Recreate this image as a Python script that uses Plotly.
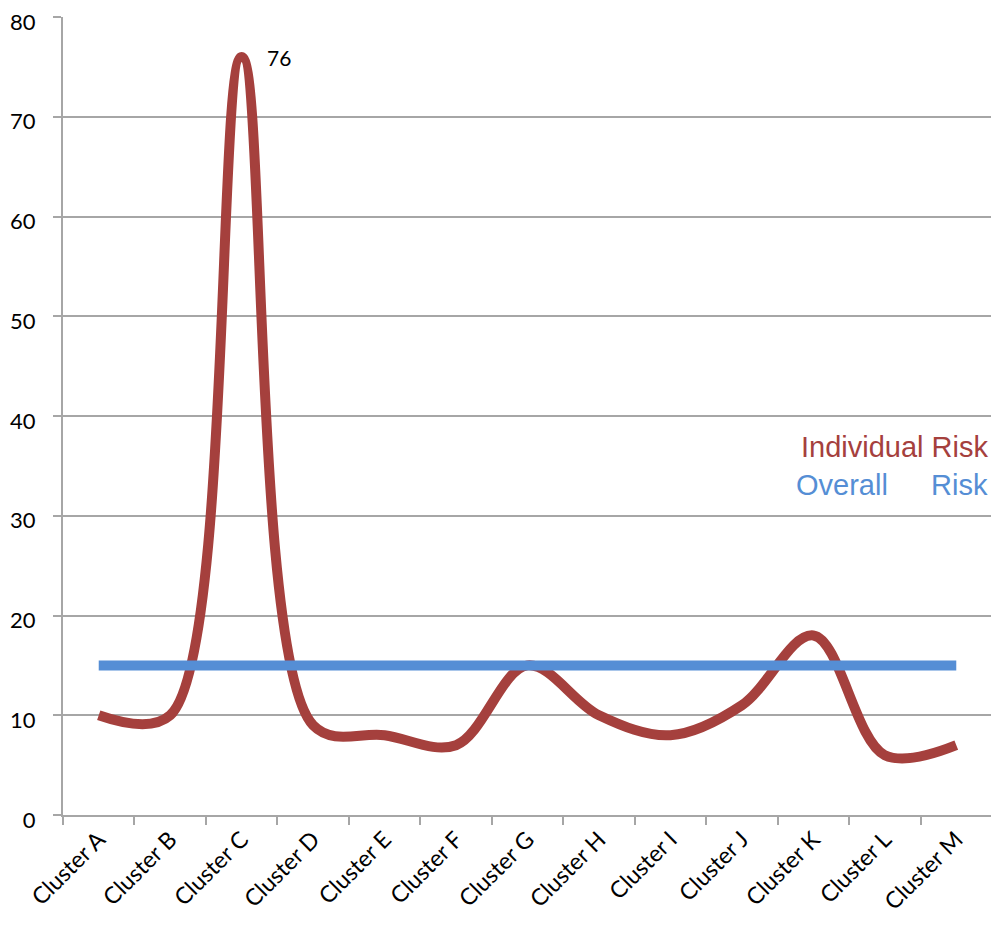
import plotly.graph_objects as go

# categories and series
clusters = ["Cluster A", "Cluster B", "Cluster C", "Cluster D", "Cluster E", "Cluster F",
            "Cluster G", "Cluster H", "Cluster I", "Cluster J", "Cluster K", "Cluster L", "Cluster M"]
individual_risk = [10, 10, 76, 9, 8, 7, 15, 10, 8, 11, 18, 6, 7]
overall_risk = [15] * len(clusters)
y_ticks = [0, 10, 20, 30, 40, 50, 60, 70, 80]

RED = "#A5403D"
BLUE = "#558ED5"
GRID = "#A6A6A6"
X_FONT = dict(family="Lato, 'Open Sans', sans-serif", size=23, color="#000000")
Y_FONT = dict(family="Lato, 'Open Sans', sans-serif", size=22, color="#000000")
LEGEND_FONT = "'Liberation Sans', Arial, sans-serif"

fig = go.Figure()

fig.add_trace(go.Scatter(x=clusters, y=individual_risk, mode="lines", name="Individual Risk",
                         line=dict(color=RED, width=10, shape="spline", smoothing=1)))
fig.add_trace(go.Scatter(x=clusters, y=overall_risk, mode="lines", name="Overall Risk",
                         line=dict(color=BLUE, width=10)))

# data label on the peak
peak = individual_risk.index(max(individual_risk))
fig.add_annotation(x=clusters[peak], y=individual_risk[peak], text=str(individual_risk[peak]),
                   showarrow=False, xanchor="left", yanchor="middle", xshift=23, yshift=-1,
                   font=dict(family="Lato, sans-serif", size=21, color="#000000"))

# legend drawn as text, like the original
fig.add_annotation(xref="paper", yref="y", x=0.998, y=36.9, text="Individual Risk",
                   showarrow=False, xanchor="right", yanchor="middle",
                   font=dict(family=LEGEND_FONT, size=29, color=RED))
fig.add_annotation(xref="paper", yref="y", x=(794 - 63) / 929, y=33.1, text="Overall",
                   showarrow=False, xanchor="left", yanchor="middle",
                   font=dict(family=LEGEND_FONT, size=29, color=BLUE))
fig.add_annotation(xref="paper", yref="y", x=0.998, y=33.1, text="Risk",
                   showarrow=False, xanchor="right", yanchor="middle",
                   font=dict(family=LEGEND_FONT, size=29, color=BLUE))

# the page body adds 8px of margin, so the figure is 8px smaller and margins are shifted
fig.update_layout(
    width=991, height=920,
    margin=dict(l=55, r=7, t=9, b=113),
    plot_bgcolor="white", paper_bgcolor="white",
    showlegend=False,
    xaxis=dict(type="category", range=[-0.5, len(clusters) - 0.5],
               tickson="boundaries", ticks="outside", ticklen=8, tickwidth=2, tickcolor=GRID,
               showline=True, linecolor=GRID, linewidth=2, showgrid=False,
               tickangle=-45, tickfont=X_FONT, automargin=False),
    yaxis=dict(range=[0, 80], tickvals=y_ticks, ticks="outside", ticklen=8, tickwidth=2,
               tickcolor=GRID, showline=True, linecolor=GRID, linewidth=2,
               showgrid=True, gridcolor=GRID, gridwidth=2, zeroline=False,
               tickfont=Y_FONT, ticklabelstandoff=13, ticklabelshift=5,
               automargin=False, ticklabeloverflow="allow"),
)

fig.write_html("out.html")
